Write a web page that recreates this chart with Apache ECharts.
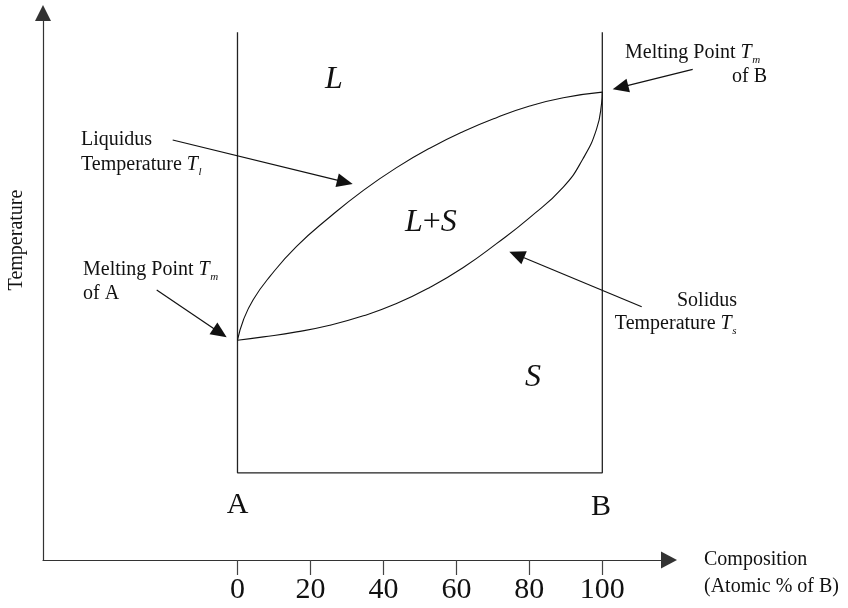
<!DOCTYPE html>
<html><head><meta charset="utf-8">
<script src="https://cdn.jsdelivr.net/npm/echarts@6/dist/echarts.min.js"></script>
<style>html,body{margin:0;padding:0;background:#fff}#c{width:848px;height:608px}</style>
</head><body><div id="c"></div>
<script>
// ---- data (composition in atomic % of B, temperature in arbitrary units) ----
const tickValues = [0, 20, 40, 60, 80, 100];
const liquidusX = [0, 1.6, 4.3, 8.9, 16.2, 25.3, 34.5, 43.6, 52.7, 61.9, 71.0, 80.1, 89.3, 100];
const liquidusY = [39.6, 43.2, 46.9, 51.1, 56.5, 61.8, 66.6, 70.7, 74.2, 77.2, 79.7, 81.8, 83.3, 84.3];
const solidusX = [0, 7.1, 16.2, 25.3, 34.5, 43.6, 52.7, 61.9, 71.0, 80.1, 89.3, 94.7, 98.4, 99.8, 100];
const solidusY = [39.6, 40.2, 41.1, 42.3, 44.0, 46.2, 49.1, 52.7, 57.0, 61.7, 67.2, 72.3, 77.6, 82.3, 84.3];
const boxX = [0, 0, 100, 100];
const boxY = [95.1, 15.7, 15.7, 95.1];

const zip = (xs, ys) => xs.map((x, i) => [x, ys[i]]);

const FAM = '"Liberation Serif", "Times New Roman", serif';
const ctx = document.createElement('canvas').getContext('2d');
function fontStr(size, italic) { return (italic ? 'italic ' : '') + size + 'px ' + FAM; }
function tw(str, size, italic) { ctx.font = fontStr(size, italic); return ctx.measureText(str).width; }
function txt(str, x, baseline, size, italic, align) {
  return {
    type: 'text', x: x, y: baseline - 0.34 * size, z: 100,
    style: { text: str, font: fontStr(size, italic), fill: '#111',
      align: align || 'left', textAlign: align || 'left',
      verticalAlign: 'middle', textVerticalAlign: 'middle' }
  };
}
function labelT(prefix, sub, x, baseline, align) {
  const wp = tw(prefix, 20, false), wt = tw('T', 20, true), ws = tw(sub, 11, true);
  const total = wp + wt + ws + 1;
  const left = align === 'right' ? x - total : x;
  return [
    txt(prefix, left, baseline, 20, false),
    txt('T', left + wp, baseline, 20, true),
    txt(sub, left + wp + wt + 0.5, baseline + 4, 11, true)
  ];
}
function arrow(x1, y1, x2, y2) {
  const dx = x2 - x1, dy = y2 - y1, len = Math.hypot(dx, dy);
  const ux = dx / len, uy = dy / len, nx = -uy, ny = ux;
  const L = 16, H = 7;
  const bx = x2 - ux * L, by = y2 - uy * L;
  return [
    { type: 'line', z: 100, shape: { x1: x1, y1: y1, x2: bx + ux * 2, y2: by + uy * 2 },
      style: { stroke: '#111', lineWidth: 1.2 } },
    { type: 'polygon', z: 100, shape: { points: [[x2, y2], [bx + nx * H, by + ny * H], [bx - nx * H, by - ny * H]] },
      style: { fill: '#111' } }
  ];
}

const graphics = [].concat(
  [txt('Liquidus', 81, 147, 20, false)],
  labelT('Temperature ', 'l', 81, 172, 'left'),
  labelT('Melting Point ', 'm', 625, 60, 'left'),
  [txt('of B', 767, 84, 20, false, 'right')],
  labelT('Melting Point ', 'm', 83, 277, 'left'),
  [txt('of A', 83, 301, 20, false)],
  [txt('Solidus', 737, 308, 20, false, 'right')],
  labelT('Temperature ', 's', 737, 331, 'right'),
  [txt('L', 325, 90, 32, true)],
  [txt('L', 405, 233, 32, true), txt('+', 405 + tw('L', 32, true), 233, 32, false),
   txt('S', 405 + tw('L', 32, true) + tw('+', 32, false), 233, 32, true)],
  [txt('S', 525, 388, 32, true)],
  [txt('A', 237.5, 515, 30, false, 'center'), txt('B', 601, 517, 30, false, 'center')],
  [txt('Composition', 704, 567, 20, false), txt('(Atomic % of B)', 704, 594, 20, false)],
  [{ type: 'text', x: 16.7, y: 240, rotation: Math.PI / 2, z: 100,
     style: { text: 'Temperature', font: fontStr(20, false), fill: '#111',
       align: 'center', textAlign: 'center', verticalAlign: 'middle', textVerticalAlign: 'middle' } }],
  arrow(172.7, 140, 352.7, 184),
  arrow(692.7, 69.3, 612.7, 89.3),
  arrow(156.7, 290, 226.7, 337.3),
  arrow(641.7, 306.7, 509.3, 251.7)
);

const chart = echarts.init(document.getElementById('c'), null, { renderer: 'canvas' });
chart.setOption({
  animation: false,
  backgroundColor: '#fff',
  grid: { left: 43, right: 179, top: 13, bottom: 48, containLabel: false, outerBoundsMode: 'none' },
  xAxis: {
    type: 'value', min: -53.31, max: 118.28,
    splitLine: { show: false },
    axisLine: { show: true, symbol: ['none', 'triangle'], symbolSize: [17, 16],
      lineStyle: { color: '#333', width: 1.2 } },
    axisTick: { show: true, customValues: tickValues, length: 15, lineStyle: { color: '#444', width: 1.2 } },
    axisLabel: { show: true, customValues: tickValues, fontSize: 30, fontFamily: FAM, color: '#111', margin: 15 }
  },
  yAxis: {
    type: 'value', min: 0, max: 98.56,
    splitLine: { show: false },
    axisLine: { show: true, onZero: false, symbol: ['none', 'triangle'], symbolSize: [16, 16],
      lineStyle: { color: '#333', width: 1.2 } },
    axisTick: { show: false },
    axisLabel: { show: false }
  },
  series: [
    { type: 'line', name: 'box', data: zip(boxX, boxY), symbol: 'none', silent: true,
      lineStyle: { color: '#222', width: 1.3 } },
    { type: 'line', name: 'Liquidus', data: zip(liquidusX, liquidusY), symbol: 'none', smooth: 0.5, silent: true,
      lineStyle: { color: '#111', width: 1.1 } },
    { type: 'line', name: 'Solidus', data: zip(solidusX, solidusY), symbol: 'none', smooth: 0.5, silent: true,
      lineStyle: { color: '#111', width: 1.1 } }
  ],
  graphic: graphics
});
</script>
</body></html>
